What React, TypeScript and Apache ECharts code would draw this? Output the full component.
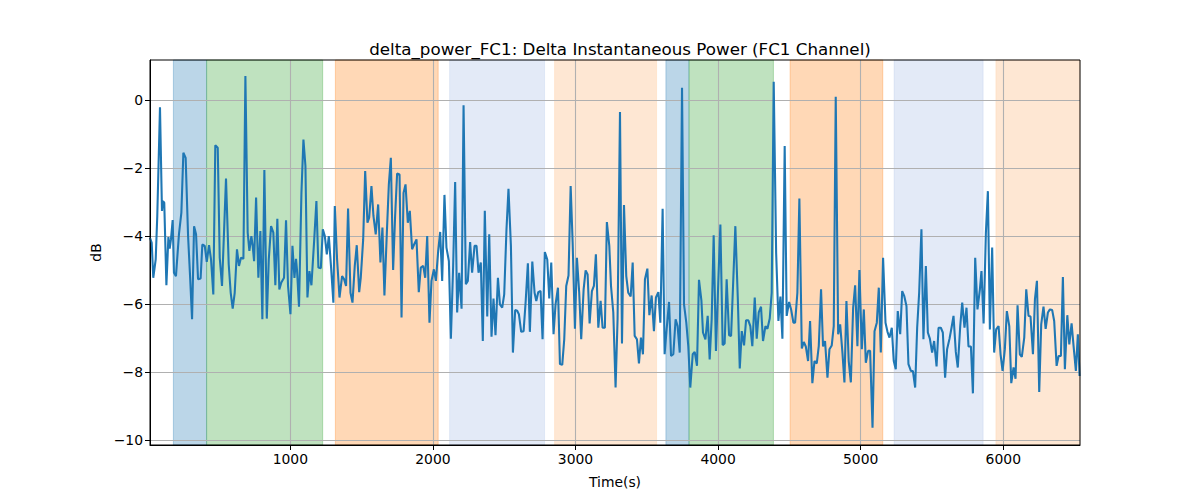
import React, { useEffect, useRef } from 'react';
import * as echarts from 'echarts';

// samples: time (s) and delta power (dB)
const timeSeconds = [
  16, 28, 39, 56, 67, 86, 100, 107, 116, 131, 145, 154, 163, 175, 184, 198, 219, 236, 250, 266,
  283, 297, 311, 325, 339, 353, 371, 383, 400, 414, 430, 444, 460, 474, 491, 505, 521, 535, 549, 568,
  582, 596, 610, 626, 640, 654, 671, 685, 701, 713, 727, 736, 746, 760, 776, 790, 804, 818, 835, 849,
  865, 881, 895, 909, 923, 937, 956, 970, 984, 1001, 1015, 1029, 1040, 1047, 1061, 1078, 1092, 1106, 1120, 1134,
  1148, 1167, 1183, 1197, 1214, 1228, 1242, 1256, 1270, 1286, 1302, 1312, 1328, 1345, 1363, 1377, 1391, 1405, 1422, 1436,
  1452, 1466, 1483, 1494, 1511, 1525, 1541, 1553, 1569, 1583, 1599, 1616, 1632, 1646, 1660, 1677, 1691, 1705, 1721, 1735,
  1749, 1766, 1780, 1794, 1808, 1824, 1838, 1854, 1868, 1885, 1901, 1915, 1932, 1946, 1960, 1976, 1990, 2007, 2021, 2037,
  2051, 2065, 2081, 2095, 2112, 2126, 2142, 2156, 2170, 2184, 2201, 2215, 2231, 2245, 2261, 2275, 2292, 2306, 2320, 2336,
  2350, 2364, 2381, 2395, 2411, 2425, 2439, 2456, 2470, 2486, 2500, 2516, 2530, 2547, 2561, 2577, 2591, 2603, 2619, 2636,
  2650, 2666, 2680, 2697, 2713, 2725, 2739, 2755, 2769, 2785, 2802, 2816, 2830, 2846, 2860, 2877, 2891, 2907, 2921, 2935,
  2951, 2966, 2980, 2996, 3010, 3026, 3040, 3057, 3071, 3085, 3099, 3115, 3129, 3143, 3160, 3176, 3190, 3206, 3220, 3237,
  3249, 3265, 3281, 3295, 3312, 3326, 3340, 3356, 3370, 3387, 3401, 3415, 3431, 3445, 3459, 3473, 3487, 3504, 3518, 3534,
  3550, 3564, 3581, 3595, 3611, 3625, 3639, 3656, 3670, 3686, 3702, 3716, 3731, 3747, 3761, 3777, 3791, 3805, 3822, 3836,
  3852, 3866, 3883, 3894, 3911, 3927, 3941, 3955, 3969, 3985, 4002, 4016, 4032, 4046, 4060, 4077, 4091, 4107, 4121, 4138,
  4152, 4166, 4182, 4196, 4212, 4226, 4240, 4257, 4271, 4285, 4301, 4315, 4332, 4346, 4362, 4376, 4390, 4407, 4423, 4437,
  4451, 4467, 4481, 4498, 4512, 4528, 4540, 4556, 4570, 4587, 4601, 4615, 4631, 4645, 4661, 4676, 4692, 4706, 4722, 4736,
  4750, 4767, 4781, 4797, 4811, 4825, 4842, 4856, 4872, 4886, 4900, 4916, 4931, 4947, 4961, 4977, 4991, 5008, 5022, 5036,
  5052, 5066, 5083, 5097, 5113, 5127, 5141, 5157, 5174, 5188, 5202, 5218, 5232, 5246, 5260, 5277, 5291, 5305, 5321, 5335,
  5352, 5366, 5382, 5396, 5410, 5426, 5440, 5457, 5471, 5485, 5501, 5515, 5532, 5546, 5562, 5576, 5592, 5606, 5623, 5637,
  5651, 5667, 5681, 5698, 5712, 5728, 5742, 5756, 5773, 5787, 5803, 5819, 5836, 5847, 5862, 5878, 5892, 5906, 5922, 5936,
  5950, 5967, 5981, 5995, 6011, 6025, 6042, 6056, 6072, 6086, 6100, 6116, 6130, 6147, 6161, 6177, 6191, 6208, 6222, 6236,
  6252, 6266, 6282, 6297, 6313, 6327, 6343, 6357, 6374, 6388, 6404, 6418, 6432, 6449, 6463, 6479, 6493, 6509, 6523, 6535,
];

const deltaPowerDb = [
  -4.05, -4.2, -5.23, -4.69, -3.41, -0.21, -3.26, -2.97, -3.02, -5.45, -4.03, -4.37, -4.1, -3.53, -5.08, -5.18, -3.95, -3.31, -1.55, -1.7,
  -4.0, -5.18, -6.45, -3.71, -3.95, -5.27, -5.25, -4.25, -4.29, -4.76, -4.27, -4.69, -5.72, -1.33, -1.4, -4.64, -5.47, -3.9, -2.31, -4.83,
  -5.67, -6.14, -5.67, -4.39, -4.88, -4.64, -4.67, 0.71, -3.9, -4.44, -4.0, -4.29, -4.74, -2.87, -5.23, -3.85, -6.45, -2.06, -6.43, -4.69,
  -3.71, -3.9, -5.45, -3.49, -5.57, -5.37, -5.23, -3.54, -5.47, -6.3, -4.29, -5.23, -4.67, -5.0, -6.08, -2.73, -1.16, -1.94, -5.81, -5.03,
  -5.45, -4.15, -2.97, -4.93, -4.95, -3.8, -4.0, -4.54, -4.0, -4.93, -5.96, -3.12, -4.69, -5.81, -5.18, -5.27, -5.47, -3.19, -5.67, -5.96,
  -4.88, -4.27, -5.65, -5.23, -4.1, -2.09, -3.61, -3.46, -2.53, -3.41, -3.95, -3.07, -4.78, -3.75, -5.75, -3.9, -2.48, -1.7, -5.0, -3.41,
  -2.16, -2.19, -6.4, -2.73, -2.48, -3.61, -3.26, -4.39, -4.25, -4.1, -5.65, -4.93, -4.88, -5.23, -4.0, -6.55, -5.32, -4.98, -5.32, -4.44,
  -3.88, -5.32, -2.79, -4.34, -4.74, -7.02, -4.88, -2.41, -6.25, -5.08, -6.14, -0.15, -5.42, -5.32, -4.18, -5.08, -4.29, -4.29, -5.08, -4.78,
  -7.09, -3.26, -6.37, -3.95, -6.96, -5.84, -6.92, -5.23, -6.01, -6.11, -5.72, -3.8, -2.61, -4.29, -7.43, -6.18, -6.2, -6.3, -6.82, -6.8,
  -5.96, -4.8, -6.82, -4.75, -5.67, -5.91, -5.65, -5.62, -7.04, -4.47, -4.69, -5.84, -4.78, -6.89, -6.01, -5.52, -7.77, -7.79, -7.04, -5.47,
  -5.16, -2.53, -4.2, -6.73, -4.64, -5.67, -7.04, -5.57, -5.01, -5.13, -6.57, -5.62, -5.47, -4.54, -6.7, -5.91, -6.7, -6.7, -3.59, -4.29,
  -5.47, -6.25, -8.46, -6.45, -0.35, -7.16, -3.09, -5.18, -5.67, -5.78, -4.78, -6.94, -7.04, -7.75, -6.99, -7.48, -5.27, -4.96, -6.33, -5.75,
  -6.8, -5.81, -5.65, -6.55, -3.2, -7.48, -6.75, -5.94, -7.53, -7.48, -6.45, -6.65, -7.43, 0.36, -6.01, -6.55, -7.24, -8.46, -7.48, -7.41,
  -7.82, -5.29, -5.9, -6.84, -7.04, -6.35, -7.63, -6.45, -3.98, -7.38, -5.27, -3.66, -7.21, -7.16, -5.27, -6.92, -6.94, -5.23, -3.71, -5.81,
  -7.9, -6.8, -7.22, -6.48, -6.48, -6.65, -7.24, -5.81, -7.02, -6.25, -6.08, -7.09, -6.65, -6.73, -6.43, -5.67, 0.54, -4.49, -6.5, -5.78,
  -7.02, -1.35, -6.35, -5.94, -6.16, -6.55, -6.55, -5.67, -2.9, -7.31, -7.12, -7.25, -7.68, -6.5, -8.33, -7.68, -7.75, -7.24, -5.57, -7.25,
  -7.09, -8.17, -7.33, -7.22, -6.65, 0.1, -6.89, -6.6, -7.43, -8.31, -5.91, -7.68, -8.31, -6.11, -5.45, -7.24, -5.0, -7.33, -6.16, -7.73,
  -7.38, -7.38, -9.64, -6.8, -6.55, -5.52, -7.43, -4.64, -6.55, -6.82, -6.99, -6.7, -7.68, -7.92, -6.21, -6.89, -5.62, -5.76, -6.06, -7.77,
  -7.97, -7.97, -8.46, -6.7, -5.67, -3.8, -7.04, -4.88, -6.84, -7.02, -7.43, -7.09, -7.84, -6.7, -6.7, -6.84, -8.17, -7.33, -7.02, -6.7,
  -6.35, -7.41, -7.87, -6.65, -5.96, -6.7, -6.11, -7.25, -7.25, -8.63, -4.64, -6.16, -5.57, -5.03, -6.57, -3.9, -2.68, -6.75, -4.34, -7.43,
  -6.75, -6.65, -7.48, -7.97, -7.33, -6.21, -6.65, -8.33, -7.87, -8.2, -6.04, -7.48, -7.56, -6.99, -5.57, -6.35, -6.37, -7.48, -5.86, -5.32,
  -8.59, -6.6, -6.08, -6.73, -6.25, -6.16, -6.18, -6.5, -7.82, -7.53, -7.53, -5.21, -7.92, -6.33, -7.19, -6.57, -7.24, -7.97, -6.89, -8.12,
];

// shaded phases (start / end in seconds) and their kind
const phaseStarts = [180, 413, 1316, 2117, 2853, 3634, 3796, 4505, 5234, 5948];
const phaseEnds = [413, 1227, 2037, 2783, 3569, 3796, 4388, 5155, 5859, 6540];
const phaseKinds = ['A', 'B', 'C', 'D', 'E', 'A', 'B', 'C', 'D', 'E'];

const xTicks = [1000, 2000, 3000, 4000, 5000, 6000];
const yTicks = [-10, -8, -6, -4, -2, 0];

const PHASE_STYLE: Record<string, { fill: string; edge: string }> = {
  A: { fill: 'rgba(31,119,180,0.3)', edge: 'rgba(31,119,180,0.3)' },
  B: { fill: 'rgba(44,160,44,0.3)', edge: 'rgba(44,160,44,0.3)' },
  C: { fill: 'rgba(255,127,14,0.3)', edge: 'rgba(255,127,14,0.3)' },
  D: { fill: 'rgba(100,140,210,0.18)', edge: 'rgba(100,140,210,0.12)' },
  E: { fill: 'rgba(253,160,80,0.25)', edge: 'rgba(253,160,80,0.15)' },
};

const FONT = 'DejaVu Sans';

// matplotlib style: plain integers, unicode minus
const fmtTick = (v: number) => String(v).replace('-', '\u2212');

const App: React.FC = () => {
  const chartRef = useRef<HTMLDivElement>(null);

  useEffect(() => {
    if (!chartRef.current) return;
    const chart = echarts.init(chartRef.current, undefined, { renderer: 'svg' });

    const lineData = timeSeconds.map((t, i) => [t, deltaPowerDb[i]]);
    const areas = phaseStarts.map((start, i) => {
      const style = PHASE_STYLE[phaseKinds[i]];
      return [
        {
          xAxis: start,
          itemStyle: { color: style.fill, borderColor: style.edge, borderWidth: 1 },
        },
        { xAxis: phaseEnds[i] },
      ];
    });

    const tickLabel = { color: '#000', fontFamily: FONT, fontSize: 13.9 };

    chart.setOption({
      animation: false,
      title: {
        text: 'delta_power_FC1: Delta Instantaneous Power (FC1 Channel)',
        left: 615,
        top: 35,
        textAlign: 'center',
        textStyle: { color: '#000', fontFamily: FONT, fontSize: 16.7, fontWeight: 'normal' },
      },
      grid: {
        left: 150,
        right: 120,
        top: 60,
        bottom: 55,
        show: true,
        z: 10,
        backgroundColor: 'transparent',
        borderColor: '#000',
        borderWidth: 1,
      },
      xAxis: {
        type: 'value',
        min: 16,
        max: 6538,
        z: 3,
        name: 'Time(s)',
        nameLocation: 'middle',
        nameGap: 30,
        nameTextStyle: tickLabel,
        axisLine: { show: true, onZero: false, lineStyle: { color: '#000', width: 1 } },
        axisTick: { show: true, length: 5, customValues: xTicks, lineStyle: { color: '#000' } },
        axisLabel: { ...tickLabel, margin: 7, customValues: xTicks, formatter: fmtTick },
        splitLine: { show: true, lineStyle: { color: '#b0b0b0', width: 1.1 } },
      },
      yAxis: {
        type: 'value',
        min: -10.15,
        max: 1.18,
        z: 3,
        name: 'dB',
        nameLocation: 'middle',
        nameGap: 45,
        nameRotate: 90,
        nameTextStyle: tickLabel,
        axisLine: { show: true, onZero: false, lineStyle: { color: '#000', width: 1 } },
        axisTick: { show: true, length: 5, customValues: yTicks, lineStyle: { color: '#000' } },
        axisLabel: { ...tickLabel, margin: 7, customValues: yTicks, formatter: fmtTick },
        splitLine: { show: true, lineStyle: { color: '#b0b0b0', width: 1.1 } },
      },
      series: [
        {
          name: 'phases',
          type: 'line',
          data: [],
          z: 1,
          silent: true,
          markArea: { silent: true, data: areas },
        },
        {
          name: 'delta_power_FC1',
          type: 'line',
          data: lineData,
          z: 5,
          showSymbol: false,
          clip: true,
          lineStyle: { color: '#1f77b4', width: 2.08 },
        },
      ],
    });

    return () => {
      chart.dispose();
    };
  }, []);

  return (
    <div
      ref={chartRef}
      style={{ position: 'absolute', left: 0, top: 0, width: '1200px', height: '500px', background: '#fff' }}
    />
  );
};

export default App;
